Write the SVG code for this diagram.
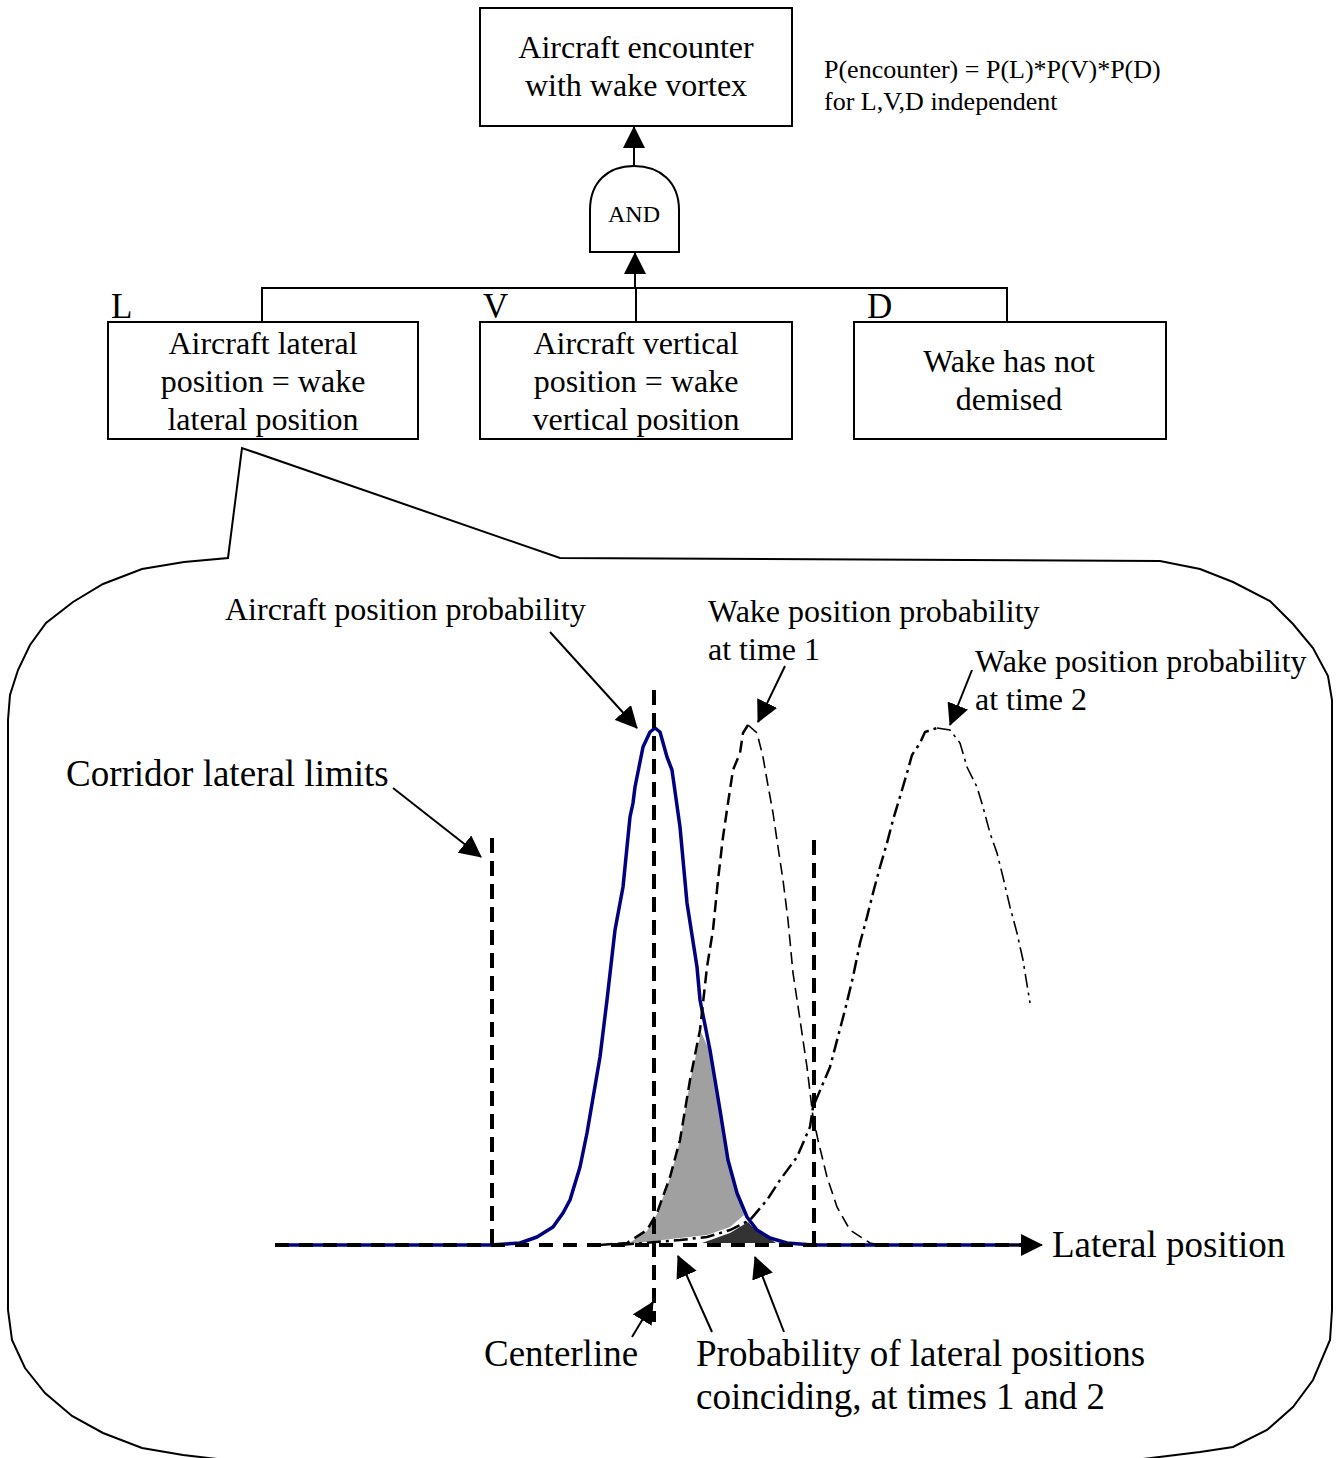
<svg xmlns="http://www.w3.org/2000/svg" width="1340" height="1458" viewBox="0 0 1340 1458">
  <style>
    text { font-family: "Liberation Serif", "Times New Roman", serif; fill: #000; }
    .box { fill: #fff; stroke: #000; stroke-width: 2; }
    .t32 { font-size: 32px; text-anchor: middle; }
    .t26 { font-size: 26px; }
    .t32l { font-size: 32px; }
    .t37 { font-size: 37px; }
    .letter { font-size: 35px; }
    .wire { fill: none; stroke: #000; stroke-width: 2; }
    .arrow { fill: none; stroke: #000; stroke-width: 2; marker-end: url(#head); }
    .limit { fill: none; stroke: #000; stroke-width: 4; stroke-dasharray: 15 8; }
    .aircraft { fill: none; stroke: #000080; stroke-width: 3.5; stroke-linejoin: round; }
    .wake1 { fill: none; stroke: #000; stroke-width: 2.5; stroke-dasharray: 12 6; }
    .wake1r { fill: none; stroke: #000; stroke-width: 1.6; stroke-dasharray: 12 6; }
    .wake2 { fill: none; stroke: #000; stroke-width: 2.5; stroke-dasharray: 14 5 3 5; }
    .wake2r { fill: none; stroke: #000; stroke-width: 1.6; stroke-dasharray: 14 5 3 5; }
  </style>
  <defs>
    <marker id="head" markerUnits="userSpaceOnUse" markerWidth="22" markerHeight="22" viewBox="0 0 22 22" refX="21" refY="11" orient="auto">
      <path d="M0,0 L22,11 L0,22 Z" fill="#000"/>
    </marker>
  </defs>

  <rect width="1340" height="1458" fill="#fff"/>

  <!-- fault tree nodes -->
  <g id="top-event">
    <rect class="box" x="480" y="8" width="312" height="118"/>
    <text class="t32" x="636" y="58">Aircraft encounter</text>
    <text class="t32" x="636" y="96">with wake vortex</text>
  </g>
  <g id="formula">
    <text class="t26" x="824" y="78">P(encounter) = P(L)*P(V)*P(D)</text>
    <text class="t26" x="824" y="110">for L,V,D independent</text>
  </g>
  <g id="and-gate">
    <path class="box" d="M590,252 L590,210 C590,182 608,166 634,166 C660,166 679,182 679,210 L679,252 Z"/>
    <text x="634" y="222" font-size="24" text-anchor="middle">AND</text>
  </g>
  <g id="event-L">
    <text class="letter" x="111" y="318">L</text>
    <rect class="box" x="108" y="322" width="310" height="117"/>
    <text class="t32" x="263" y="354">Aircraft lateral</text>
    <text class="t32" x="263" y="392">position = wake</text>
    <text class="t32" x="263" y="430">lateral position</text>
  </g>
  <g id="event-V">
    <text class="letter" x="483" y="318">V</text>
    <rect class="box" x="480" y="322" width="312" height="117"/>
    <text class="t32" x="636" y="354">Aircraft vertical</text>
    <text class="t32" x="636" y="392">position = wake</text>
    <text class="t32" x="636" y="430">vertical position</text>
  </g>
  <g id="event-D">
    <text class="letter" x="867" y="318">D</text>
    <rect class="box" x="854" y="322" width="312" height="117"/>
    <text class="t32" x="1009" y="372">Wake has not</text>
    <text class="t32" x="1009" y="410">demised</text>
  </g>

  <!-- gate wiring -->
  <g id="connectors">
    <path class="wire" d="M262,322 L262,288 L1007,288 L1007,322 M636,288 L636,322"/>
    <line class="arrow" x1="635" y1="288" x2="635" y2="253"/>
    <line class="arrow" x1="634" y1="166" x2="634" y2="127"/>
  </g>

  <!-- callout balloon expanding event L -->
  <path class="wire" d="M217,1459 L183,1455 L142,1448 L103,1433 L72,1416 L45,1393 L25,1368 L12,1340 L8,1310 L8,720 L10,695 L18,670 L30,645 L46,623 L73,602 L103,584 L142,569 L184,562 L228,558 L242,448 L560,558 L1160,561 L1200,569 L1233,582 L1270,601 L1293,624 L1313,648 L1328,676 L1332,700 L1332,1310 L1330,1340 L1313,1380 L1293,1407 L1267,1430 L1233,1447 L1200,1452 L1143,1459"/>

  <!-- overlap areas -->
  <path d="M701,1032 L710,1052 L720,1111 L728,1160 L737,1193 L744,1215 L730,1227 L707,1235 L680,1238 L645,1242 L628,1244 L647,1231 L657,1214 L670,1178 L680,1141 L690,1082 Z" fill="#a0a0a0"/>
  <path d="M748,1222 L757,1231 L770,1239 L776,1243 L702,1243 L730,1233 Z" fill="#333"/>

  <!-- probability curves -->
  <path class="aircraft" d="M275,1245 L490,1245 L520,1243 L537,1237 L553,1227 L563,1213 L570,1200 L580,1167 L587,1133 L600,1057 L607,1000 L615,930 L623,887 L630,817 L633,803 L635,787 L643,747 L650,732 L655,728 L660,732 L667,757 L672,770 L680,827 L687,903 L697,967 L700,1000 L710,1050 L720,1110 L728,1160 L737,1193 L747,1217 L757,1230 L770,1238 L787,1243 L813,1245 L1022,1245"/>
  <path class="wake1" d="M600,1245 L627,1243 L647,1230 L657,1213 L670,1177 L680,1140 L690,1080 L700,1030 L707,967 L713,930 L718,880 L723,837 L728,803 L733,770 L740,753 L743,733 L748,725"/>
  <path class="wake1r" d="M748,725 L757,733 L763,757 L767,780 L773,813 L778,847 L783,880 L788,920 L793,973 L799,1013 L807,1067 L813,1117 L818,1140 L827,1177 L837,1207 L850,1230 L870,1243 L880,1245"/>
  <path class="wake2" d="M620,1245 L680,1240 L707,1237 L730,1230 L750,1220 L767,1200 L780,1180 L797,1157 L810,1127 L813,1107 L830,1067 L845,1010 L853,977 L860,943 L867,917 L873,893 L880,867 L887,843 L893,820 L902,790 L907,773 L912,755 L920,743 L925,732 L937,728"/>
  <path class="wake2r" d="M937,728 L950,730 L960,743 L967,767 L977,787 L983,807 L990,833 L997,853 L1003,877 L1010,907 L1017,933 L1023,960 L1030,1003"/>

  <!-- axis, centreline and corridor limits -->
  <line x1="275" y1="1245" x2="1022" y2="1245" stroke="#000" stroke-width="4" stroke-dasharray="14 10"/>
  <line class="arrow" x1="1000" y1="1245" x2="1042" y2="1245"/>
  <line class="limit" x1="654" y1="690" x2="654" y2="1322"/>
  <line class="limit" x1="492" y1="838" x2="492" y2="1245"/>
  <line class="limit" x1="814" y1="840" x2="814" y2="1245"/>

  <!-- annotations -->
  <g id="annotations">
    <text class="t32l" x="225" y="620">Aircraft position probability</text>
    <line class="arrow" x1="550" y1="632" x2="637" y2="728"/>
    <text class="t32l" x="708" y="622">Wake position probability</text>
    <text class="t32l" x="708" y="660">at time 1</text>
    <line class="arrow" x1="785" y1="666" x2="758" y2="722"/>
    <text class="t32l" x="975" y="672">Wake position probability</text>
    <text class="t32l" x="975" y="710">at time 2</text>
    <line class="arrow" x1="972" y1="670" x2="950" y2="725"/>
    <text class="t37" x="66" y="786">Corridor lateral limits</text>
    <line class="arrow" x1="393" y1="788" x2="481" y2="857"/>
    <text class="t37" x="1052" y="1257">Lateral position</text>
    <text class="t37" x="484" y="1366">Centerline</text>
    <line class="arrow" x1="632" y1="1337" x2="653" y2="1302"/>
    <text class="t37" x="696" y="1366">Probability of lateral positions</text>
    <text class="t37" x="696" y="1409">coinciding, at times 1 and 2</text>
    <line class="arrow" x1="712" y1="1332" x2="678" y2="1256"/>
    <line class="arrow" x1="784" y1="1332" x2="755" y2="1257"/>
  </g>
</svg>
